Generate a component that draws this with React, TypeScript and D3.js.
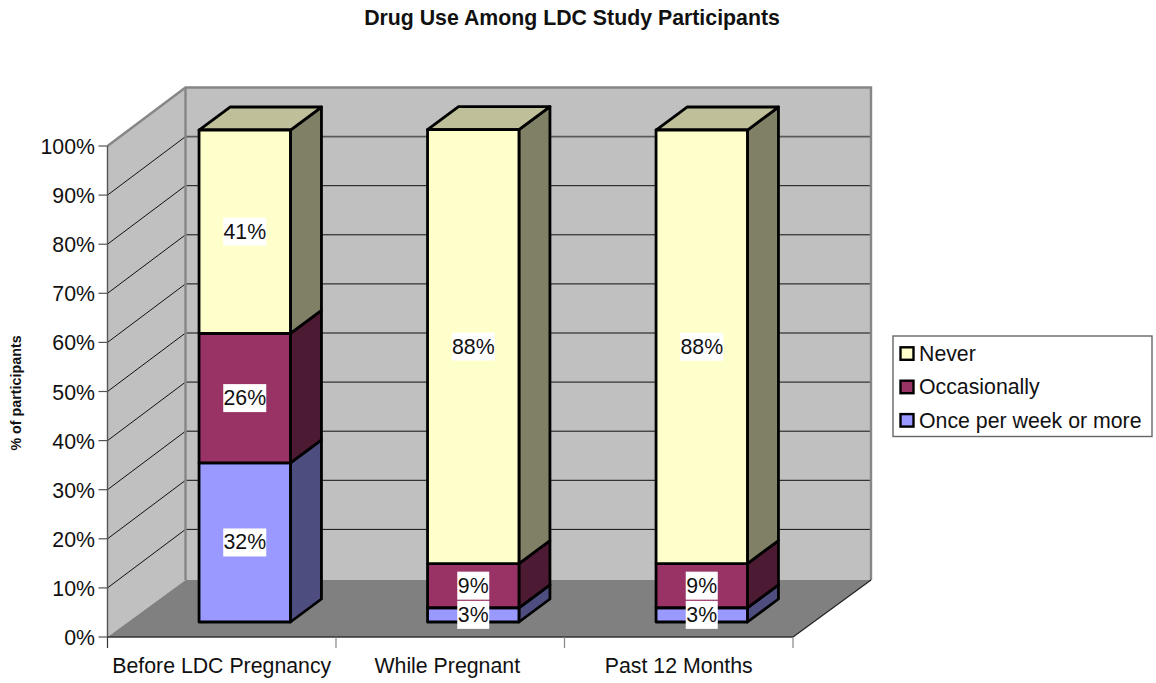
import React from "react";
import * as d3 from "d3";

const categories = ["Before LDC Pregnancy", "While Pregnant", "Past 12 Months"];
const once = [32.4, 2.9, 2.9];
const occasionally = [26.4, 9.0, 9.0];
const never = [41.4, 88.4, 88.3];
const yTicks = [0, 10, 20, 30, 40, 50, 60, 70, 80, 90, 100];
const legendNames = ["Never", "Occasionally", "Once per week or more"];

const W = 1156, H = 683;
const FONT = "'Liberation Sans', Arial, sans-serif";
// 3d offsets: wall depth and bar depth
const depth = { x: 78, y: -58.5 };
const floorY = -57;
const barDepth = { x: 31, y: -23 };
const barShift = { x: 23, y: -15 };

const rows = categories.map((c, i) => ({
  cat: c, once: once[i], occasionally: occasionally[i], never: never[i]
}));
const stack = d3.stack<any>().keys(["once", "occasionally", "never"])(rows);
const colors: Record<string, { front: string; side: string; top: string }> = {
  once: { front: "#9999ff", side: "#4d4d80", top: "#7a7acc" },
  occasionally: { front: "#993366", side: "#4d1a33", top: "#7a2952" },
  never: { front: "#ffffcc", side: "#808066", top: "#bfbf99" }
};
const legendKeys = ["never", "occasionally", "once"];

const x = d3.scaleBand().domain(categories).range([107.5, 793]).paddingInner(0.6).paddingOuter(0.3);
const xEdge = d3.scaleLinear().domain([0, 3]).range([107.5, 793]);
const y = d3.scaleLinear().domain([0, 100]).range([637, 146]);
const line = d3.line();
const poly = (pts: [number, number][]) => line(pts) + "Z";

export default function App() {
  const x0 = x.range()[0], x1 = x.range()[1];
  const yB = y(0), yT = y(100);
  return (
    <svg width={W} height={H} style={{ position: "absolute", left: 0, top: 0, background: "#fff" }} fontFamily={FONT} fill="#111">
      <text x={572} y={25} textAnchor="middle" fontSize={21.3} fontWeight="bold">Drug Use Among LDC Study Participants</text>

      {/* walls and floor */}
      <path d={poly([[x0, yT], [x0 + depth.x, yT + depth.y], [x0 + depth.x, yB + floorY], [x0, yB]])} fill="#c0c0c0" />
      <path d={poly([[x0 + depth.x, yT + depth.y], [x1 + depth.x, yT + depth.y], [x1 + depth.x, yB + floorY], [x0 + depth.x, yB + floorY]])} fill="#c0c0c0" />

      {yTicks.filter(t => t > 0 && t < 100).map(t => (
        <g key={t} fill="none">
          <path stroke="#111" strokeWidth={1} d={line([[x0, y(t)], [x0 + depth.x, y(t) + depth.y]]) as string} />
          <path stroke={t === 90 ? "#5a5a5a" : "#111"} strokeWidth={t === 90 ? 1.8 : 1}
            d={line([[x0 + depth.x, y(t) + depth.y], [x1 + depth.x, y(t) + depth.y]]) as string} />
        </g>
      ))}
      <path fill="none" stroke="#868686" strokeWidth={2.4}
        d={line([[x0, yT], [x0 + depth.x, yT + depth.y], [x1 + depth.x, yT + depth.y], [x1 + depth.x, yB + floorY]]) as string} />
      <path fill="none" stroke="#868686" strokeWidth={2.4}
        d={line([[x0 + depth.x, yT + depth.y], [x0 + depth.x, yB + floorY]]) as string} />
      <path d={poly([[x0, yB], [x1, yB], [x1 + depth.x, yB + floorY], [x0 + depth.x, yB + floorY]])} fill="#808080" />
      <path fill="none" stroke="#222" strokeWidth={1.2}
        d={line([[x1 + depth.x, yB + floorY], [x1, yB]]) as string} />

      {/* axes */}
      <line x1={x0} x2={x0} y1={yT} y2={yB} stroke="#555" strokeWidth={1.4} />
      <line x1={x0} x2={x1} y1={yB} y2={yB} stroke="#333" strokeWidth={1.6} />
      {yTicks.map(t => (
        <g key={t}>
          <line x1={x0 - 9} x2={x0} y1={y(t)} y2={y(t)} stroke="#555" strokeWidth={1.2} />
          <text x={95} y={y(t) + 8} textAnchor="end" fontSize={21.3}>{t}%</text>
        </g>
      ))}
      {d3.range(4).map(i => (
        <line key={i} x1={xEdge(i)} x2={xEdge(i)} y1={yB} y2={yB + 11} stroke={i === 0 ? "#333" : "#888"} strokeWidth={1.2} />
      ))}
      {categories.map((c, i) => (
        <text key={c} x={(x(c) as number) + x.bandwidth() / 2 - (i === 1 ? 3 : 0)} y={673} textAnchor="middle" fontSize={21.3}>{c}</text>
      ))}
      <text transform="translate(21,393) rotate(-90)" textAnchor="middle" fontSize={14.3} fontWeight="bold">% of participants</text>

      {/* stacked 3d bars */}
      {categories.map((c, i) => {
        const l = (x(c) as number) + barShift.x;
        const r = l + x.bandwidth();
        return (
          <g key={c} stroke="#000" strokeWidth={2.8} strokeLinejoin="round">
            {stack.map(s => {
              const b = y(s[i][0]) + barShift.y;
              const t = y(s[i][1]) + barShift.y;
              const col = colors[s.key];
              return (
                <g key={s.key}>
                  <path fill={col.side} d={poly([[r, b], [r + barDepth.x, b + barDepth.y], [r + barDepth.x, t + barDepth.y], [r, t]])} />
                  {s.key === "never" && (
                    <path fill={col.top} d={poly([[l, t], [r, t], [r + barDepth.x, t + barDepth.y], [l + barDepth.x, t + barDepth.y]])} />
                  )}
                  <rect x={l} y={t} width={r - l} height={b - t} fill={col.front} />
                </g>
              );
            })}
          </g>
        );
      })}

      {/* data labels */}
      {categories.map((c, i) => {
        const cx = (x(c) as number) + barShift.x + x.bandwidth() / 2;
        return stack.map(s => {
          const v = s[i][1] - s[i][0];
          const cy = (y(s[i][0]) + y(s[i][1])) / 2 + barShift.y;
          const txt = Math.round(v) + "%";
          const w = txt.length === 3 ? 43 : 32;
          return (
            <g key={c + s.key}>
              <rect x={cx - w / 2} y={cy - 14} width={w} height={28} fill="#fff" />
              <text x={cx} y={cy + 7} textAnchor="middle" fontSize={21.3}>{txt}</text>
            </g>
          );
        });
      })}

      {/* legend */}
      <rect x={893} y={336} width={259} height={100.5} fill="#fff" stroke="#666" strokeWidth={1.4} />
      {legendNames.map((n, i) => (
        <g key={n}>
          <rect x={900.5} y={347.3 + i * 33.4} width={13} height={12.5} fill={colors[legendKeys[i]].front} stroke="#000" strokeWidth={2.4} />
          <text x={919} y={360.5 + i * 33.5} fontSize={21.3}>{n}</text>
        </g>
      ))}
    </svg>
  );
}
